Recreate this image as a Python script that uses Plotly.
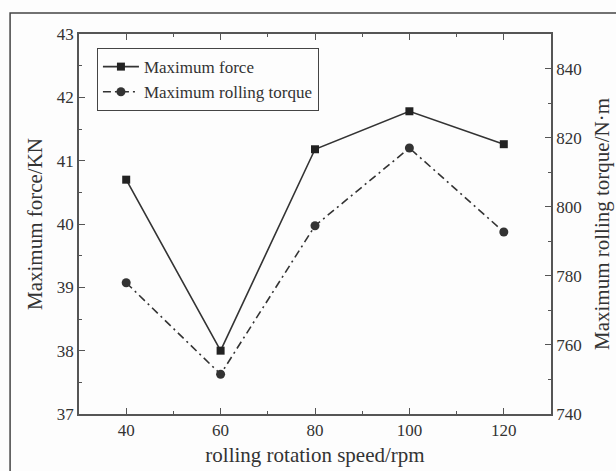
import plotly.graph_objects as go

speed = [40, 60, 80, 100, 120]
max_force = [40.70, 38.00, 41.18, 41.78, 41.26]
max_torque = [778.0, 751.5, 794.5, 817.0, 792.7]

x_ticks = [40, 60, 80, 100, 120]
y1_ticks = [37, 38, 39, 40, 41, 42, 43]
y2_ticks = [740, 760, 780, 800, 820, 840]

FONT = "Liberation Serif"
INK = "#333333"
AX = "#555555"

fig = go.Figure()
fig.add_trace(go.Scatter(
    x=speed, y=max_force, name="Maximum force", mode="lines+markers",
    line=dict(color=INK, width=1.6),
    marker=dict(symbol="square", size=8, color="#222222"),
))
fig.add_trace(go.Scatter(
    x=speed, y=max_torque, name="Maximum rolling torque", mode="lines+markers",
    yaxis="y2",
    line=dict(color=INK, width=1.6, dash="8px,4px,2px,4px"),
    marker=dict(symbol="circle", size=9, color="#333333"),
))

tickfont = dict(size=17, family=FONT, color=INK)
titlefont = dict(size=21, family=FONT, color=INK)

fig.update_layout(
    width=616, height=471,
    margin=dict(l=79, r=65, t=34, b=57, autoexpand=False),
    paper_bgcolor="#fdfdfd", plot_bgcolor="#fdfdfd",
    font=dict(family=FONT, color=INK, size=17),
    showlegend=True,
    legend=dict(
        x=0.038, y=0.963, xanchor="left", yanchor="top",
        bordercolor="#444444", borderwidth=1, bgcolor="rgba(0,0,0,0)",
        font=dict(size=17, family=FONT, color=INK),
        tracegroupgap=0, itemwidth=36,
    ),
    xaxis=dict(
        range=[30, 130], tickvals=x_ticks, ticktext=[str(v) for v in x_ticks],
        showgrid=False, zeroline=False, automargin=False,
        showline=True, linecolor=AX, linewidth=1.5, mirror="ticks",
        ticks="inside", ticklen=6, tickwidth=1.2, tickcolor=AX,
        minor=dict(ticks="inside", ticklen=3, tickwidth=1, tickcolor=AX, dtick=10, tick0=30),
        tickfont=tickfont,
        title=dict(text="rolling rotation speed/rpm", font=titlefont, standoff=8),
    ),
    yaxis=dict(
        range=[37, 43], tickvals=y1_ticks, ticktext=[str(v) for v in y1_ticks],
        showgrid=False, zeroline=False, automargin=False,
        showline=True, linecolor=AX, linewidth=1.5,
        ticks="inside", ticklen=6, tickwidth=1.2, tickcolor=AX,
        minor=dict(ticks="inside", ticklen=3, tickwidth=1, tickcolor=AX, dtick=0.5, tick0=37),
        tickfont=tickfont,
        title=dict(text="Maximum force/KN", font=titlefont, standoff=8),
    ),
    yaxis2=dict(
        range=[740, 850], tickvals=y2_ticks, ticktext=[str(v) for v in y2_ticks],
        overlaying="y", side="right",
        showgrid=False, zeroline=False, automargin=False,
        showline=True, linecolor=AX, linewidth=1.5,
        ticks="inside", ticklen=6, tickwidth=1.2, tickcolor=AX,
        minor=dict(ticks="inside", ticklen=3, tickwidth=1, tickcolor=AX, dtick=10, tick0=740),
        tickfont=tickfont,
        title=dict(text="Maximum rolling torque/N·m", font=titlefont, standoff=14),
    ),
    shapes=[dict(
        type="rect", xref="paper", yref="paper",
        x0=-0.146, x1=1.3, y0=-0.3, y1=1.0553,
        line=dict(color="#444444", width=1.5), fillcolor="rgba(0,0,0,0)", layer="below",
    )],
)

fig.write_html(
    "out.html",
    config={"displayModeBar": False},
    post_script="document.body.style.margin='0';document.body.style.overflow='hidden';",
)
